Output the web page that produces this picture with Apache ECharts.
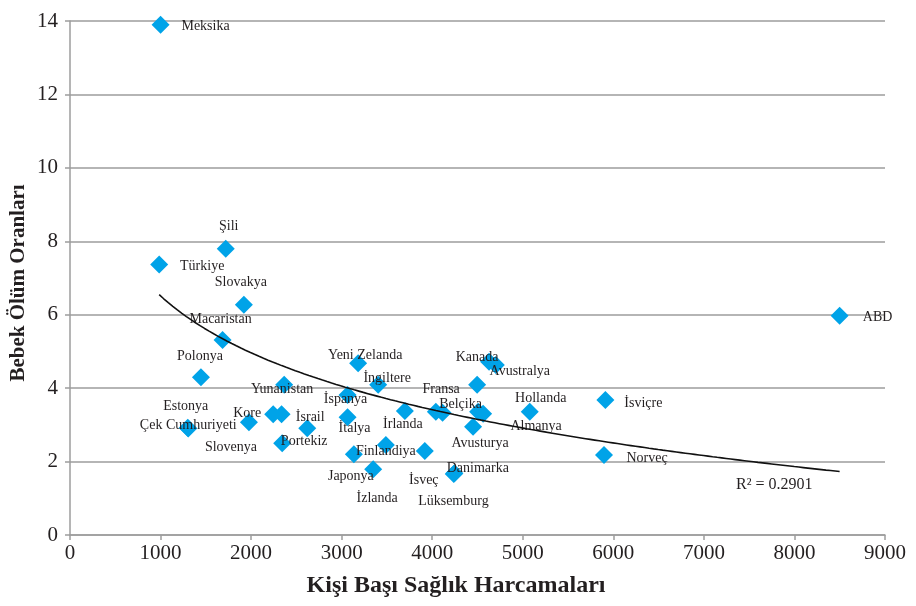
<!DOCTYPE html>
<html>
<head>
<meta charset="utf-8">
<script src="https://cdn.jsdelivr.net/npm/echarts@6/dist/echarts.min.js"></script>
<style>html,body{margin:0;padding:0;background:#fff;}#c{width:916px;height:606px;}</style>
</head>
<body>
<div id="c"></div>
<script>
const countries = ["Meksika","Şili","Türkiye","Slovakya","Macaristan","Polonya","Yunanistan","Kore","Estonya","Çek Cumhuriyeti","Slovenya","İsrail","Portekiz","İspanya","İtalya","Yeni Zelanda","İngiltere","İrlanda","Finlandiya","Japonya","İzlanda","İsveç","Danimarka","Lüksemburg","Fransa","Kanada","Avustralya","Belçika","Almanya","Avusturya","Hollanda","İsviçre","Norveç","ABD"];
const spending = [1000,1720,985,1920,1685,1446,2365,2244,1300,1306,1976,2620,2343,3065,3065,3182,3403,3698,3488,3135,3348,3918,4238,4245,4496,4628,4702,4114,4562,4451,5077,5912,5897,8499];
const mortality = [13.9,7.8,7.37,6.27,5.31,4.30,4.09,3.29,2.92,2.90,3.07,2.91,2.50,3.81,3.21,4.68,4.09,3.38,2.45,2.20,1.79,2.29,1.66,1.68,4.09,4.72,4.63,3.33,3.30,2.95,3.36,3.68,2.18,5.97];
// unlabelled markers visible in the picture
const extraSpending = [2336,4040,4507];
const extraMortality = [3.29,3.36,3.36];
const xTicks = {min:0,max:9000,interval:1000};
const yTicks = {min:0,max:14,interval:2};
// logarithmic trendline y = a + b*ln(x), coefficients
const trendA = 21.95;
const trendB = -2.235;
const r2Text = "R² = 0.2901";

// label offsets (px, label centre relative to marker centre) - style only
const labelOffsets = [[45,2],[3,-22],[43,2],[-3,-22],[-2,-21],[-1,-21],[-2,4],[-26,-1],[-2,-21],[0,-3],[-18,25],[3,-11],[22,-2],[-2,4],[7,11],[7,-8],[9,-7],[-2,13],[0,6],[-3,22],[4,29],[-1,29],[24,-6],[-1,28],[-36,4],[-12,-4],[24,6],[18,-8],[53,12],[7,17],[11,-13],[38,3],[43,3],[38,2]];

const allX = spending.concat(extraSpending);
const xMin = Math.min.apply(null, allX), xMax = Math.max.apply(null, allX);
const trend = [];
for (let i=0;i<=150;i++){const x = xMin + (xMax-xMin)*i/150; trend.push([x, trendA + trendB*Math.log(x)]);}

const serif = "'Liberation Serif','Times New Roman',serif";
const txt = '#231f20';
const blue = '#00a3e8';

const scatterData = countries.map((c,i)=>({
  name:c, value:[spending[i], mortality[i]],
  label:{offset:labelOffsets[i]}
}));
const extraData = extraSpending.map((x,i)=>[x, extraMortality[i]]);

const chart = echarts.init(document.getElementById('c'), null, {renderer:'canvas'});
chart.setOption({
  animation:false,
  backgroundColor:'#fff',
  grid:{left:70,right:31,top:21,bottom:71,containLabel:false},
  xAxis:{type:'value',min:xTicks.min,max:xTicks.max,interval:xTicks.interval,
    axisLine:{show:true,lineStyle:{color:'#9d9d9d',width:1.5}},
    axisTick:{show:true,length:5,lineStyle:{color:'#9d9d9d',width:1.5}},
    axisLabel:{fontFamily:serif,fontSize:21,color:txt,margin:8,formatter:v=>String(v)},
    splitLine:{show:false}},
  yAxis:{type:'value',min:yTicks.min,max:yTicks.max,interval:yTicks.interval,
    axisLine:{show:true,lineStyle:{color:'#9d9d9d',width:1.5}},
    axisTick:{show:true,length:5,lineStyle:{color:'#9d9d9d',width:1.5}},
    axisLabel:{fontFamily:serif,fontSize:21,color:txt,margin:12},
    splitLine:{show:true,lineStyle:{color:'#9d9d9d',width:1.5}}},
  series:[
    {type:'scatter',data:extraData,symbol:'diamond',symbolSize:18,itemStyle:{color:blue,opacity:1},z:2,silent:true},
    {type:'scatter',data:scatterData,symbol:'diamond',symbolSize:18,itemStyle:{color:blue,opacity:1},z:2,
      label:{show:true,position:'inside',formatter:'{b}',fontFamily:serif,fontSize:14,color:txt,align:'center',verticalAlign:'middle'}},
    {type:'line',data:trend,showSymbol:false,symbol:'none',lineStyle:{color:'#111',width:1.6},z:3,silent:true}
  ],
  graphic:[
    {type:'text',left:736,top:477,style:{text:r2Text,fontFamily:serif,fontSize:16,fill:txt}},
    {type:'text',x:456,y:586,style:{text:'Kişi Başı Sağlık Harcamaları',fontFamily:serif,fontSize:24,fontWeight:'bold',fill:txt,align:'center',verticalAlign:'middle'}},
    {type:'text',x:19,y:283,rotation:Math.PI/2,style:{text:'Bebek Ölüm Oranları',fontFamily:serif,fontSize:21,fontWeight:'bold',fill:txt,align:'center',verticalAlign:'middle'}}
  ]
});
</script>
</body>
</html>
